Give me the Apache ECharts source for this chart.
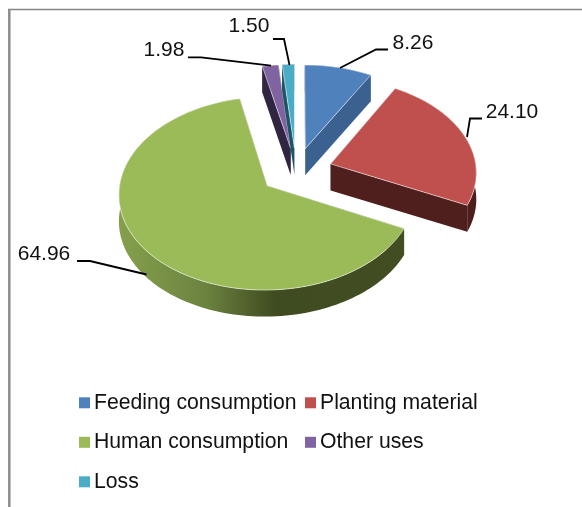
<!DOCTYPE html>
<html><head><meta charset="utf-8">
<style>html,body{margin:0;padding:0;background:#fff}#c{width:582px;height:507px}</style>
<script src="https://cdn.jsdelivr.net/npm/echarts@6/dist/echarts.min.js"></script>
</head><body><div id="c"></div>
<script>
const categories = ['Feeding consumption','Planting material','Human consumption','Other uses','Loss'];
const shares = [8.26,24.10,64.96,1.98,1.50];
const topColors = ['#4F81BD','#C0504D','#9BBB59','#8064A2','#4BACC6'];
const wallColors = ['#3A6190','#4E1F1D','#3F4B20','#302641','#1E5566'];
const labelAt = [[413,43],[512,112],[44,254],[164,50],[249,26]];
const leaders = [
  [[340,68],[376,49.5],[388,49.5]],
  [[467,137],[470,118.5],[482,118.5]],
  [[146.5,274.5],[90,261],[77,261]],
  [[271,65.7],[201,57.3],[188,57.3]],
  [[289.5,65],[284,39],[273,39]]
];
const C = {cx:296.1, cy:170.9, rx:145.8, ry:93.7, k:0.0791, explode:0.25, depth:26.5};
const FONT = '"Liberation Sans", Arial, sans-serif';
const total = shares.reduce((a,b)=>a+b,0);

function project(X,Y){
  const d = 1 + C.k*Y;
  return [C.cx + X*C.rx/d, C.cy - Y*C.ry/d];
}
function slicePaths(i){
  let before = 0;
  for(let j=0;j<i;j++) before += shares[j];
  const a0 = before/total*2*Math.PI, a1 = (before+shares[i])/total*2*Math.PI, mid=(a0+a1)/2;
  const ox = C.explode*Math.sin(mid), oy = C.explode*Math.cos(mid);
  const apex = project(ox,oy);
  const arc = [];
  const n = Math.max(4, Math.ceil((a1-a0)/0.03));
  for(let s=0;s<=n;s++){
    const a = a0+(a1-a0)*s/n;
    arc.push(project(ox+Math.sin(a), oy+Math.cos(a)));
  }
  return {apex, arc};
}
const down = p => [p[0], p[1]+C.depth];
function wallQuad(a,b){ return [a,b,down(b),down(a)]; }

function render(i){
  return function(params, api){
    const {apex, arc} = slicePaths(i);
    const first = arc[0], last = arc[arc.length-1];
    const wall = wallColors[i];
    const children = [];
    children.push({type:'polygon', shape:{points:wallQuad(apex,first)}, style:{fill:wall}});
    children.push({type:'polygon', shape:{points:wallQuad(apex,last)}, style:{fill:wall}});
    const wallPts = arc.concat(arc.slice().reverse().map(down));
    let arcFill = wall;
    if(i===2){
      arcFill = new echarts.graphic.LinearGradient(0,0,1,0,[
        {offset:0,color:'#85A04C'},{offset:0.3,color:'#6C8340'},{offset:0.55,color:'#3F4B20'},{offset:1,color:'#424E22'}]);
    }
    children.push({type:'polygon', shape:{points:wallPts}, style:{fill:arcFill}});
    children.push({type:'polygon', shape:{points:[apex].concat(arc)},
      style:{fill:topColors[i], stroke:'rgba(255,255,255,0.55)', lineWidth:1, lineJoin:'round'}});
    children.push({type:'polyline', shape:{points:leaders[i]}, style:{stroke:'#000', lineWidth:1.8, fill:null}});
    children.push({type:'text', x:labelAt[i][0], y:labelAt[i][1],
      style:{text:api.value(0).toFixed(2), font:'21px '+FONT, fill:'#111', align:'center', verticalAlign:'middle'}});
    return {type:'group', children};
  };
}

const legendBase = {top:392.3, padding:0, orient:'vertical', itemWidth:11, itemHeight:11, itemGap:18.5, selectedMode:false, icon:'rect',
  textStyle:{fontFamily:FONT,fontSize:21.2,color:'#111',padding:[0,0,0,-1]}};
const chart = echarts.init(document.getElementById('c'), null, {renderer:'canvas'});
chart.setOption({
  animation:false,
  backgroundColor:'#fff',
  legend:[
    Object.assign({left:79, data:[categories[0],categories[2],categories[4]]}, legendBase),
    Object.assign({left:305, data:[categories[1],categories[3]]}, legendBase)
  ],
  graphic:[
    {type:'line', shape:{x1:8,y1:9.5,x2:582,y2:9.5}, style:{stroke:'#858585',lineWidth:1.5}, silent:true},
    {type:'line', shape:{x1:9.3,y1:9,x2:9.3,y2:507}, style:{stroke:'#8c8c8c',lineWidth:2.5}, silent:true}
  ],
  series: categories.map((name,i)=>({
    type:'custom', name, coordinateSystem:'none', silent:true,
    itemStyle:{color:topColors[i]},
    data:[[shares[i]]],
    renderItem:render(i)
  }))
});
</script></body></html>
